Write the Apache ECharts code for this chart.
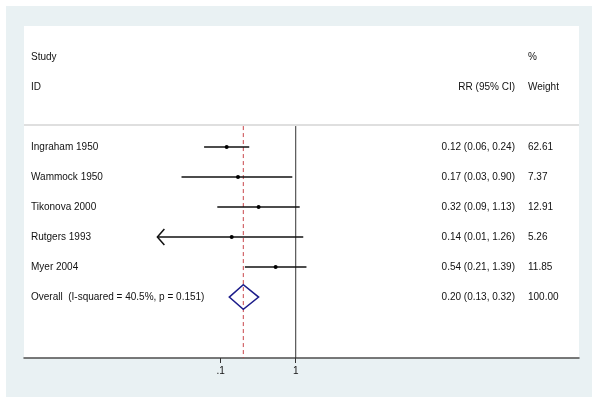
<!DOCTYPE html>
<html>
<head>
<meta charset="utf-8">
<script src="https://cdn.jsdelivr.net/npm/echarts@6/dist/echarts.min.js"></script>
<style>
  html, body { margin: 0; padding: 0; background: #fff; }
  #wrap { position: relative; width: 600px; height: 402px; background: #fff; }
  #main { position: absolute; left: 6px; top: 6px; width: 586px; height: 391px; }
</style>
</head>
<body>
<div id="wrap"><div id="main"></div></div>
<script>
// study rows
var studies = ['Ingraham 1950', 'Wammock 1950', 'Tikonova 2000', 'Rutgers 1993', 'Myer 2004'];
var rr = [0.12, 0.17, 0.32, 0.14, 0.54];
var lower = [0.06, 0.03, 0.09, 0.01, 0.21];
var upper = [0.24, 0.90, 1.13, 1.26, 1.39];
var weights = ['62.61', '7.37', '12.91', '5.26', '11.85'];

// pooled estimate
var overallLabel = 'Overall  (I-squared = 40.5%, p = 0.151)';
var overallRR = [0.20, 0.13, 0.32];   // estimate, lower, upper
var overallWeight = '100.00';

// axis ticks
var tickValues = [0.1, 1];
var tickLabels = ['.1', '1'];
var clipMin = 0.0143;   // left end of the plotted range, CIs beyond it get an arrow

var lg = function (v) { return Math.log10(v); };
var fmt = function (v) { return v.toFixed(2); };

var headerRows = [
    [-3, 'Study', '', '%'],
    [-2, 'ID', 'RR (95% CI)', 'Weight']
];
var tableRows = headerRows.concat(studies.map(function (s, i) {
    return [i, s, fmt(rr[i]) + ' (' + fmt(lower[i]) + ', ' + fmt(upper[i]) + ')', weights[i]];
}));
tableRows.push([studies.length, overallLabel,
    fmt(overallRR[0]) + ' (' + fmt(overallRR[1]) + ', ' + fmt(overallRR[2]) + ')', overallWeight]);

var ciData = studies.map(function (s, i) {
    return [i, lg(lower[i]), lg(upper[i]), lg(rr[i])];
});

var yTop = -4.03, yBottom = 7.03, sepRow = -0.73;
var font = { fontFamily: 'Liberation Sans, Arial, sans-serif', fontSize: 10, fill: '#111' };

var myChart = echarts.init(document.getElementById('main'));
myChart.setOption({
    backgroundColor: '#e9f1f3',
    animation: false,
    grid: {
        left: 18, top: 20, width: 555, height: 332,
        show: true, backgroundColor: '#fff', borderWidth: 0
    },
    xAxis: {
        type: 'value',
        min: -3.623,
        max: 3.777,
        axisLine: { onZero: false, lineStyle: { color: '#4d4d4d', width: 1.5 } },
        axisTick: {
            customValues: tickValues.map(lg),
            length: 5,
            lineStyle: { color: '#333', width: 1 }
        },
        axisLabel: {
            customValues: tickValues.map(lg),
            margin: 8,
            fontSize: 10,
            fontFamily: 'Liberation Sans, Arial, sans-serif',
            color: '#111',
            formatter: function (v) {
                var k = tickValues.map(lg).findIndex(function (t) { return Math.abs(t - v) < 1e-6; });
                return k >= 0 ? tickLabels[k] : '';
            }
        },
        splitLine: { show: false }
    },
    yAxis: {
        type: 'value',
        inverse: true,
        min: yTop,
        max: yBottom,
        show: false
    },
    series: [{
        // separator and reference lines
        type: 'custom',
        silent: true,
        data: [[0]],
        renderItem: function (params, api) {
            var cs = params.coordSys;
            var sep = api.coord([0, sepRow])[1];
            var one = api.coord([0, yBottom]);
            var pooled = api.coord([lg(overallRR[0]), yBottom]);
            return {
                type: 'group',
                children: [{
                    type: 'line',
                    shape: { x1: cs.x, y1: sep, x2: cs.x + cs.width, y2: sep },
                    style: { stroke: '#d4d4d4', lineWidth: 1.5 }
                }, {
                    type: 'line',
                    shape: { x1: one[0], y1: sep + 1, x2: one[0], y2: one[1] },
                    style: { stroke: '#333', lineWidth: 1 }
                }, {
                    type: 'line',
                    shape: { x1: pooled[0], y1: sep + 1, x2: pooled[0], y2: pooled[1] },
                    style: { stroke: '#c9454a', lineWidth: 1, lineDash: [4, 3] }
                }]
            };
        }
    }, {
        // confidence intervals and point estimates
        type: 'custom',
        silent: true,
        data: ciData,
        encode: { x: [1, 2, 3], y: 0 },
        renderItem: function (params, api) {
            var row = api.value(0);
            var clipped = api.value(1) < lg(clipMin);
            var lo = api.coord([clipped ? lg(clipMin) : api.value(1), row]);
            var hi = api.coord([api.value(2), row]);
            var est = api.coord([api.value(3), row]);
            var children = [{
                type: 'line',
                shape: { x1: lo[0], y1: lo[1], x2: hi[0], y2: hi[1] },
                style: { stroke: '#111', lineWidth: 1.5 }
            }, {
                type: 'circle',
                shape: { cx: est[0], cy: est[1], r: 2 },
                style: { fill: '#000' }
            }];
            if (clipped) {
                children.push({
                    type: 'polyline',
                    shape: { points: [[lo[0] + 7, lo[1] - 8], [lo[0], lo[1]], [lo[0] + 7, lo[1] + 8]] },
                    style: { stroke: '#111', lineWidth: 1.5, fill: null }
                });
            }
            return { type: 'group', children: children };
        }
    }, {
        // pooled diamond
        type: 'custom',
        silent: true,
        data: [[studies.length, lg(overallRR[1]), lg(overallRR[2]), lg(overallRR[0])]],
        encode: { x: [1, 2, 3], y: 0 },
        renderItem: function (params, api) {
            var row = api.value(0);
            var l = api.coord([api.value(1), row]);
            var r = api.coord([api.value(2), row]);
            var c = api.coord([api.value(3), row]);
            var h = api.size([0, 0.41])[1];
            return {
                type: 'polygon',
                shape: { points: [[l[0], l[1]], [c[0], c[1] - h], [r[0], r[1]], [c[0], c[1] + h]] },
                style: { stroke: '#1c1c8a', lineWidth: 1.5, fill: null }
            };
        }
    }, {
        // text table
        type: 'custom',
        silent: true,
        data: tableRows,
        encode: { y: 0 },
        renderItem: function (params, api) {
            var cs = params.coordSys;
            var row = tableRows[params.dataIndex];
            var y = api.coord([0, row[0]])[1];
            return {
                type: 'group',
                children: [{
                    type: 'text',
                    style: Object.assign({ x: cs.x + 7, y: y, text: row[1], align: 'left', verticalAlign: 'middle' }, font)
                }, {
                    type: 'text',
                    style: Object.assign({ x: cs.x + 491, y: y, text: row[2], align: 'right', verticalAlign: 'middle' }, font)
                }, {
                    type: 'text',
                    style: Object.assign({ x: cs.x + 504, y: y, text: row[3], align: 'left', verticalAlign: 'middle' }, font)
                }]
            };
        }
    }]
});
</script>
</body>
</html>
